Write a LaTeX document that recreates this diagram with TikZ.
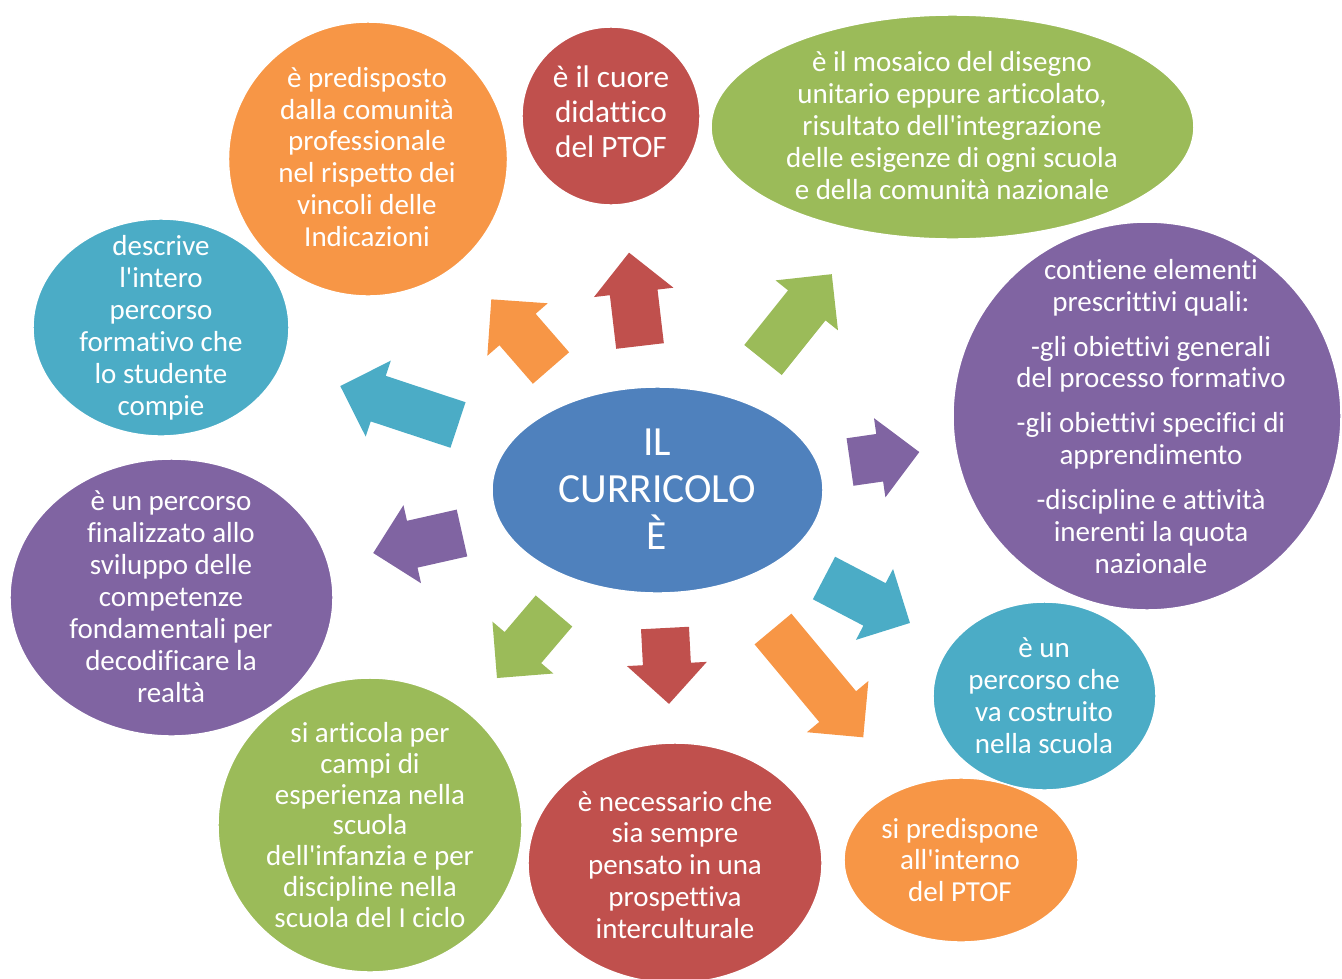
\documentclass[tikz,border=0pt]{standalone}
\usepackage{fontspec}
\setmainfont{Carlito}[Ligatures={CommonOff,TeXOff}]
\usetikzlibrary{shapes.geometric}
\definecolor{ofblue}{HTML}{4F81BD}
\definecolor{ofred}{HTML}{C0504D}
\definecolor{ofgreen}{HTML}{9BBB59}
\definecolor{ofpurple}{HTML}{8064A2}
\definecolor{ofaqua}{HTML}{4BACC6}
\definecolor{oforange}{HTML}{F79646}
\newcommand{\blockarrow}[4]{%
  \fill[#4, shift={#1}, rotate=#2] (0,-24) -- ({#3-40},-24) -- ({#3-40},-40) -- (#3,0)
    -- ({#3-40},40) -- ({#3-40},24) -- (0,24) -- cycle;}
\begin{document}
\begin{tikzpicture}[x=0.02cm, y=-0.02cm,
  bubble/.style={ellipse, inner sep=0pt, draw=white, line width=0.8pt},
  txt/.style={text=white, align=center, inner sep=0pt, font=\fontsize{16.5}{18.2}\selectfont}]
\useasboundingbox (0,0) rectangle (1342,978);
\clip (0,0) rectangle (1342,978);

\node[bubble, fill=oforange, minimum width=5.58cm, minimum height=5.48cm] (b-predisposto) at (368,159) {};
\node[bubble, fill=ofred, minimum width=3.56cm, minimum height=3.56cm] (b-cuore) at (611,116) {};
\node[bubble, fill=ofgreen, minimum width=9.66cm, minimum height=4.48cm] (b-mosaico) at (952.5,127) {};
\node[bubble, fill=ofpurple, minimum width=7.76cm, minimum height=7.76cm] (b-elementi) at (1147,416) {};
\node[bubble, fill=ofaqua, minimum width=5.12cm, minimum height=4.34cm] (b-descrive) at (161,327.5) {};
\node[bubble, fill=ofpurple, minimum width=6.46cm, minimum height=5.54cm] (b-sviluppo) at (171.5,597.5) {};
\node[bubble, fill=ofgreen, minimum width=6.08cm, minimum height=5.88cm] (b-articola) at (370,825) {};
\node[bubble, fill=ofred, minimum width=5.88cm, minimum height=4.8cm] (b-intercult) at (675,863) {};
\node[bubble, fill=ofaqua, minimum width=4.46cm, minimum height=3.76cm] (b-costruito) at (1044.5,696) {};
\node[bubble, fill=oforange, minimum width=4.68cm, minimum height=3.28cm] (b-ptof) at (961,860) {};
\node[bubble, fill=ofblue, minimum width=6.62cm, minimum height=4.12cm] (b-curricolo) at (657.5,490) {};

\node[txt] (predisposto) at (367,157) {è predisposto\\dalla comunità\\professionale\\nel rispetto dei\\vincoli delle\\Indicazioni};
\node[txt, font=\fontsize{17.8}{19.8}\selectfont] (cuore) at (611,112) {è il cuore\\didattico\\del PTOF};
\node[txt] (mosaico) at (952,125.5) {è il mosaico del disegno\\unitario eppure articolato,\\risultato dell'integrazione\\delle esigenze di ogni scuola\\e della comunità nazionale};
\node[txt] (elementi) at (1151,416.5) {contiene elementi\\prescrittivi quali:\\[0.26cm]-gli obiettivi generali\\del processo formativo\\[0.26cm]-gli obiettivi specifici di\\apprendimento\\[0.26cm]-discipline e attività\\inerenti la quota\\nazionale};
\node[txt] (descrive) at (161,327.5) {descrive\\l'intero\\percorso\\formativo che\\lo studente\\compie};
\node[txt] (sviluppo) at (171,596.5) {è un percorso\\finalizzato allo\\sviluppo delle\\competenze\\fondamentali per\\decodificare la\\realtà};
\node[txt, font=\fontsize{16.5}{17.6}\selectfont] (articola) at (370,825) {si articola per\\campi di\\esperienza nella\\scuola\\dell'infanzia e per\\discipline nella\\scuola del I ciclo};
\node[txt] (intercult) at (675,865) {è necessario che\\sia sempre\\pensato in una\\prospettiva\\interculturale};
\node[txt] (costruito) at (1044,696) {è un\\percorso che\\va costruito\\nella scuola};
\node[txt] (ptof) at (960,860) {si predispone\\all'interno\\del PTOF};
\node[txt, font=\fontsize{23.6}{26.6}\selectfont] (curricolo) at (657,489) {IL\\CURRICOLO\\È};

\blockarrow{(458,425)}{161.7}{124}{ofaqua}
\blockarrow{(551,368)}{131}{91}{oforange}
\blockarrow{(640,346)}{96.7}{94}{ofred}
\blockarrow{(763,360)}{51.3}{110}{ofgreen}
\blockarrow{(850,462)}{8.2}{70}{ofpurple}
\blockarrow{(462,533)}{192.7}{91}{ofpurple}
\blockarrow{(554,611)}{229.6}{88}{ofgreen}
\blockarrow{(665,628)}{-87}{76}{ofred}
\blockarrow{(824,578)}{-27.6}{97}{ofaqua}
\blockarrow{(773,629)}{-50.2}{141}{oforange}
\end{tikzpicture}
\end{document}
